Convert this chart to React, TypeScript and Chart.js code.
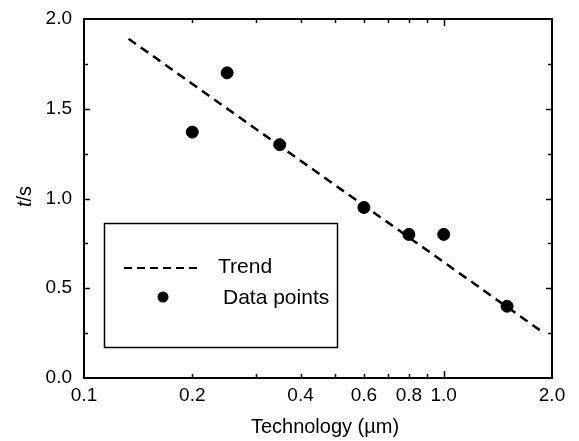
import { useEffect, useRef } from "react";
import { Chart, registerables } from "chart.js";

Chart.register(...registerables);

const FONT = '"Liberation Sans", Arial, Helvetica, sans-serif';

// Data
const techX = [0.2, 0.25, 0.35, 0.6, 0.8, 1.0, 1.5];
const ratioY = [1.37, 1.7, 1.3, 0.95, 0.8, 0.8, 0.4];
const trendX = [0.133, 1.9];
const trendY = [1.89, 0.25];
const xTickValues = [0.1, 0.2, 0.4, 0.6, 0.8, 1.0, 2.0];
const xTickMarks = [0.2, 0.3, 0.4, 0.5, 0.6, 0.7, 0.8, 0.9, 1.0];
const yTickMarks = [0.25, 0.5, 0.75, 1.0, 1.25, 1.5, 1.75];
const xTitle = "Technology (\u00b5m)";
const seriesLabels = ["Trend", "Data points"];

export default function App() {
  const ref = useRef<HTMLCanvasElement>(null);

  useEffect(() => {
    document.body.style.margin = "0";
    const canvas = ref.current;
    if (!canvas) return;

    const framePlugin = {
      id: "frameTicks",
      afterDraw(chart: any) {
        const { ctx, chartArea: a, scales } = chart;
        const xs = scales.x;
        const ys = scales.y;
        ctx.save();
        ctx.strokeStyle = "#000";
        ctx.lineWidth = 2;
        ctx.strokeRect(a.left, a.top, a.right - a.left, a.bottom - a.top);
        ctx.lineWidth = 1.5;
        const seg = (x1: number, y1: number, x2: number, y2: number) => {
          ctx.beginPath();
          ctx.moveTo(x1, y1);
          ctx.lineTo(x2, y2);
          ctx.stroke();
        };
        xTickMarks.forEach((v) => {
          const len = v === 1.0 ? 7 : 4;
          const px = Math.round(xs.getPixelForValue(v)) + 0.5;
          seg(px, a.bottom, px, a.bottom - len);
          seg(px, a.top, px, a.top + len);
        });
        yTickMarks.forEach((v) => {
          const len = Math.abs(v * 2 - Math.round(v * 2)) < 1e-6 ? 6 : 4;
          const py = Math.round(ys.getPixelForValue(v)) + 0.5;
          seg(a.left, py, a.left + len, py);
          seg(a.right, py, a.right - len, py);
        });

        // Axis titles
        ctx.fillStyle = "#000";
        ctx.textBaseline = "middle";
        ctx.textAlign = "center";
        ctx.font = `20px ${FONT}`;
        ctx.fillText(xTitle, (a.left + a.right) / 2 + 7, 427);

        ctx.save();
        ctx.translate(25, (a.top + a.bottom) / 2 - 2);
        ctx.rotate(-Math.PI / 2);
        ctx.textAlign = "left";
        ctx.font = `italic 20px ${FONT}`;
        const wT = ctx.measureText("t").width;
        ctx.font = `20px ${FONT}`;
        const wS = ctx.measureText("/s").width;
        const start = -(wT + wS) / 2;
        ctx.font = `italic 20px ${FONT}`;
        ctx.fillText("t", start, 0);
        ctx.font = `20px ${FONT}`;
        ctx.fillText("/s", start + wT, 0);
        ctx.restore();

        // Legend box
        const lx = a.left + 20;
        const ly = a.top + 204;
        const lw = 233;
        const lh = 124;
        ctx.lineWidth = 1.5;
        ctx.strokeRect(lx + 0.5, ly + 0.5, lw, lh);
        const ds = chart.data.datasets;
        // Trend entry
        ctx.save();
        ctx.setLineDash([8, 5]);
        ctx.lineWidth = 2;
        seg(lx + 20, ly + 45, lx + 98, ly + 45);
        ctx.restore();
        ctx.font = `21px ${FONT}`;
        ctx.textAlign = "left";
        ctx.fillText(ds[0].label, lx + 114, ly + 44);
        // Data points entry
        ctx.beginPath();
        ctx.arc(lx + 59, ly + 74, 5.5, 0, Math.PI * 2);
        ctx.fill();
        ctx.fillText(ds[1].label, lx + 119, ly + 75);
        ctx.restore();
      },
    };

    const chart = new Chart(canvas, {
      type: "scatter",
      data: {
        datasets: [
          {
            label: seriesLabels[0],
            data: trendX.map((x, i) => ({ x, y: trendY[i] })),
            showLine: true,
            borderColor: "#000",
            borderWidth: 2.5,
            borderDash: [9, 6],
            pointRadius: 0,
            fill: false,
          },
          {
            label: seriesLabels[1],
            data: techX.map((x, i) => ({ x, y: ratioY[i] })),
            showLine: false,
            backgroundColor: "#000",
            borderColor: "#000",
            pointRadius: 6,
            pointHoverRadius: 6,
          },
        ],
      },
      options: {
        responsive: false,
        animation: false,
        devicePixelRatio: 1,
        layout: { padding: { top: 19, right: 27, left: 0, bottom: 0 } },
        plugins: {
          legend: { display: false },
          tooltip: { enabled: false },
        },
        scales: {
          x: {
            type: "logarithmic",
            min: 0.1,
            max: 2.0,
            afterBuildTicks: (s: any) => {
              s.ticks = xTickValues.map((v) => ({ value: v }));
            },
            afterFit: (s: any) => {
              s.height = 63;
              s.paddingLeft = 0;
              s.paddingRight = 0;
            },
            ticks: {
              callback: (v: any) => Number(v).toFixed(1),
              color: "#000",
              font: { family: FONT, size: 19 },
              maxRotation: 0,
              autoSkip: false,
              padding: 6,
            },
            grid: { display: false, drawTicks: false },
            border: { display: false },
          },
          y: {
            type: "linear",
            min: 0,
            max: 2,
            ticks: {
              stepSize: 0.5,
              callback: (v: any) => Number(v).toFixed(1),
              color: "#000",
              font: { family: FONT, size: 19 },
              padding: 12,
            },
            afterFit: (s: any) => {
              s.width = 84;
              s.paddingTop = 0;
              s.paddingBottom = 0;
            },
            grid: { display: false, drawTicks: false },
            border: { display: false },
          },
        },
      },
      plugins: [framePlugin],
    });

    return () => chart.destroy();
  }, []);

  return (
    <div style={{ width: 579, height: 441 }}>
      <canvas ref={ref} width={579} height={441} />
    </div>
  );
}
